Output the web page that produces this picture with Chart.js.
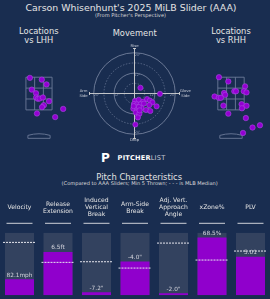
<!DOCTYPE html>
<html>
<head>
<meta charset="utf-8">
<script src="https://cdn.jsdelivr.net/npm/chart.js@4.4.1/dist/chart.umd.min.js"></script>
<style>
html, body { margin: 0; padding: 0; background: #192d50; }
#wrap { position: relative; width: 270px; height: 299px; overflow: hidden; background: #192d50; font-family: 'DejaVu Sans', sans-serif; color: #e4e4e4; }
.t { position: absolute; white-space: nowrap; text-align: center; transform: translate(-50%, -50%); line-height: 1; }
canvas { position: absolute; }
</style>
</head>
<body>
<div id="wrap">
  <div class="t" style="left:131px;top:7.5px;font-size:9.4px">Carson Whisenhunt's 2025 MiLB Slider (AAA)</div>
  <div class="t" style="left:130.5px;top:16.3px;font-size:5.1px;color:#d8d8d8">(From Pitcher's Perspective)</div>
  <div class="t" style="left:38.8px;top:35.8px;font-size:8.3px;line-height:9.5px">Locations<br>vs LHH</div>
  <div class="t" style="left:134.7px;top:33px;font-size:8.3px">Movement</div>
  <div class="t" style="left:231px;top:35.8px;font-size:8.3px;line-height:9.5px">Locations<br>vs RHH</div>

  <div class="t" style="left:105.5px;top:158px;font-size:12px;font-weight:bold;color:#ffffff">P</div>
  <div class="t" style="left:141.5px;top:158.3px;font-size:6.6px;letter-spacing:0.2px"><b style="color:#ffffff">PITCHER</b><span style="color:#c8ccd6">LIST</span></div>

  <div class="t" style="left:139.2px;top:176.7px;font-size:8.4px">Pitch Characteristics</div>
  <div class="t" style="left:139.7px;top:184.4px;font-size:5.1px;color:#dcdcdc">(Compared to AAA Sliders; Min 5 Thrown; - - - is MLB Median)</div>

  <canvas id="lhh" width="72" height="100" style="left:3px;top:46px"></canvas>
  <canvas id="rhh" width="76" height="100" style="left:193px;top:46px"></canvas>
  <canvas id="move" width="125" height="115" style="left:72px;top:36px"></canvas>
  <canvas id="bars" width="270" height="104" style="left:0px;top:195px"></canvas>
</div>

<script>
// pitch locations (feet, catcher-plate coords as drawn)
const lhhX = [-0.58, 0.18, 0.48, -0.46, -0.19, -0.18, -0.07, 0.04, 0.25, 0.64, 0.31, 0.19, -0.13, 1.54, 1.03];
const lhhZ = [3.46, 3.35, 3.06, 2.74, 2.52, 2.26, 2.18, 2.20, 2.26, 2.03, 1.79, 1.67, 1.28, 1.56, 1.06];

const rhhX = [-0.76, -0.17, 0.89, -0.44, -0.37, 0.21, 0.32, 0.81, 0.98, -1.04, -0.77, -0.64, -0.48, 0.67, 0.98, 0.69, -0.17, 0.94, 1.83, 1.36, 0.76];
const rhhZ = [3.50, 3.24, 2.94, 2.53, 2.42, 2.64, 2.64, 2.64, 2.57, 2.32, 2.24, 2.24, 1.76, 1.85, 1.75, 1.60, 1.27, 1.00, 0.56, 0.42, 0.09];

// movement (inches)
const moveH = [3.5, 15.0, 0.3, 2.5, 5.2, 7.4, 9.1, 10.6, 8.7, 13.0, -0.3, 1.4, 3.6, -0.7, 1.5, 4.1, 6.8, 9.3, 0.8, 2.9, 2.0, 0.5, 1.0, 2.6, 3.0, -0.5, 5.6];
const moveV = [3.4, -0.2, -4.3, -3.7, -4.8, -3.3, -4.2, -5.3, -6.9, -7.6, -6.2, -6.5, -6.4, -9.0, -9.0, -8.6, -9.8, -10.4, -11.3, -12.0, -14.2, -18.4, -7.8, -8.0, -10.0, -7.5, -6.0];

// pitch characteristics
const statLabels = [['Velocity'], ['Release', 'Extension'], ['Induced', 'Vertical', 'Break'], ['Arm-Side', 'Break'], ['Adj. Vert.', 'Approach', 'Angle'], ['xZone%'], ['PLV']];
const statText = ['82.1mph', '6.5ft', '-7.2"', '-4.0"', '-2.0"', '68.5%', '5.01'];
const statPct = [25.5, 69, 4.8, 54, 3.2, 92.5, 61.6];
const medianPct = [84.5, 52.6, 53.6, 43.5, 83.4, 56.3, 70.7];
const fullBar = [100, 100, 100, 100, 100, 100, 100];

const DOT = '#9400d3';
const DOT_EDGE = '#a84ee0';
const FONT = '"DejaVu Sans", sans-serif';
const PX_FT = 18;
const Z_MAX = 5.128;
const Z_MIN = Z_MAX - 100 / PX_FT;

const baseOpts = {
    responsive: false,
    animation: false,
    events: [],
    layout: { padding: 0 },
    plugins: { legend: { display: false }, tooltip: { enabled: false } }
};

const zonePlugin = {
    id: 'zone',
    beforeDatasetsDraw(chart) {
        const c = chart.ctx;
        const sx = chart.scales.x, sy = chart.scales.y;
        const X = v => sx.getPixelForValue(v), Y = v => sy.getPixelForValue(v);
        c.save();
        c.strokeStyle = '#6c7b99';
        c.lineWidth = 0.9;
        const xs = [-0.833, -0.278, 0.278, 0.833];
        const zs = [1.5, 2.1667, 2.8333, 3.5];
        xs.forEach(x => { c.beginPath(); c.moveTo(X(x), Y(1.5)); c.lineTo(X(x), Y(3.5)); c.stroke(); });
        zs.forEach(z => { c.beginPath(); c.moveTo(X(-0.833), Y(z)); c.lineTo(X(0.833), Y(z)); c.stroke(); });
        // plate
        c.beginPath();
        c.moveTo(X(-0.708), Y(-0.24));
        c.lineTo(X(0.708), Y(-0.24));
        c.lineTo(X(0.708), Y(-0.06));
        c.quadraticCurveTo(X(0), Y(0.14), X(-0.708), Y(-0.06));
        c.closePath();
        c.stroke();
        c.restore();
    }
};

function makeLoc(id, xs, zs) {
    const cv = document.getElementById(id);
    const half = cv.width / 2 / PX_FT;
    return new Chart(cv, {
        type: 'scatter',
        data: {
            datasets: [{
                data: xs.map((x, i) => ({ x: x, y: zs[i] })),
                backgroundColor: DOT,
                borderColor: DOT_EDGE,
                borderWidth: 0.6,
                pointRadius: 2.7
            }]
        },
        options: Object.assign({}, baseOpts, {
            scales: {
                x: { display: false, min: -half, max: half },
                y: { display: false, min: Z_MIN, max: Z_MAX }
            }
        }),
        plugins: [zonePlugin]
    });
}

makeLoc('lhh', lhhX, lhhZ);
makeLoc('rhh', rhhX, rhhZ);

const ringPlugin = {
    id: 'rings',
    beforeDatasetsDraw(chart) {
        const c = chart.ctx;
        const sx = chart.scales.x, sy = chart.scales.y;
        const cx = sx.getPixelForValue(0), cy = sy.getPixelForValue(0);
        const k = sx.getPixelForValue(1) - cx;
        c.save();
        [6, 12, 18, 24].forEach(r => {
            c.beginPath();
            c.setLineDash(r % 12 === 0 ? [] : [1.5, 1.5]);
            c.strokeStyle = r % 12 === 0 ? '#8c98b2' : '#6f7d9b';
            c.lineWidth = 0.7;
            c.arc(cx, cy, r * k, 0, Math.PI * 2);
            c.stroke();
        });
        c.setLineDash([]);
        c.strokeStyle = '#d6d6d6';
        c.lineWidth = 0.9;
        const L = 26.5 * k;
        c.beginPath();
        c.moveTo(cx - L, cy); c.lineTo(cx + L, cy);
        c.moveTo(cx, cy - L); c.lineTo(cx, cy + L);
        c.moveTo(cx - L, cy - 1.5); c.lineTo(cx - L, cy + 1.5);
        c.moveTo(cx + L, cy - 1.5); c.lineTo(cx + L, cy + 1.5);
        c.moveTo(cx - 1.5, cy - L); c.lineTo(cx + 1.5, cy - L);
        c.moveTo(cx - 1.5, cy + L); c.lineTo(cx + 1.5, cy + L);
        c.stroke();

        c.fillStyle = '#cfd3dc';
        c.textAlign = 'center';
        c.textBaseline = 'middle';
        c.font = '3.8px ' + FONT;
        c.fillText('Rise', cx, cy - 28.2 * k);
        c.fillText('Drop', cx, cy + 27.6 * k);
        c.fillText('Arm', cx - 30 * k, cy - 2.2);
        c.fillText('Side', cx - 30 * k, cy + 2.2);
        c.fillText('Glove', cx + 30 * k, cy - 2.2);
        c.fillText('Side', cx + 30 * k, cy + 2.2);

        c.fillStyle = '#8f9ab3';
        c.font = '3.2px ' + FONT;
        [12, 24].forEach(r => {
            c.fillText(r + '"', cx + 3, cy - (r - 1.4) * k);
            c.fillText(r + '"', cx + 3, cy + (r - 1.4) * k);
            c.fillText(r + '"', cx - (r - 1.6) * k, cy + 2);
            c.fillText(r + '"', cx + (r - 1.6) * k, cy + 2);
        });
        c.restore();
    }
};

new Chart(document.getElementById('move'), {
    type: 'scatter',
    data: {
        datasets: [{
            data: moveH.map((h, i) => ({ x: h, y: moveV[i] })),
            backgroundColor: DOT,
            borderColor: DOT_EDGE,
            borderWidth: 0.6,
            pointRadius: 2.6
        }]
    },
    options: Object.assign({}, baseOpts, {
        scales: {
            x: { display: false, min: -34.1, max: 34.1 },
            y: { display: false, min: -31.4, max: 31.4 }
        }
    }),
    plugins: [ringPlugin]
});

const barTextPlugin = {
    id: 'barText',
    afterDatasetsDraw(chart) {
        const c = chart.ctx;
        const sy = chart.scales.y;
        const meta = chart.getDatasetMeta(0);
        c.save();
        meta.data.forEach((bar, i) => {
            const x = bar.x, w = bar.width;
            // median line
            const my = sy.getPixelForValue(medianPct[i]);
            c.strokeStyle = '#e6e6ee';
            c.lineWidth = 1;
            c.setLineDash([2, 1]);
            c.beginPath();
            c.moveTo(x - w / 2 - 2, my);
            c.lineTo(x + w / 2 + 2, my);
            c.stroke();
            c.setLineDash([]);
            // value
            c.fillStyle = '#d4d4dc';
            c.font = '5.8px ' + FONT;
            c.textAlign = 'center';
            c.textBaseline = 'middle';
            c.fillText(statText[i], x, sy.getPixelForValue(statPct[i]) - 4.2);
            // header
            c.fillStyle = '#e4e4e4';
            c.font = '6.1px ' + FONT;
            const lines = statLabels[i];
            const y0 = 207.5 - 195 - (lines.length - 1) * 7.1 / 2;
            lines.forEach((s, j) => c.fillText(s, x, y0 + j * 7.1));
            // underline
            c.strokeStyle = '#cdd0d8';
            c.lineWidth = 1;
            c.beginPath();
            c.moveTo(x - 13, 223.3 - 195);
            c.lineTo(x + 13, 223.3 - 195);
            c.stroke();
        });
        c.restore();
    }
};

new Chart(document.getElementById('bars'), {
    type: 'bar',
    data: {
        labels: statLabels,
        datasets: [
            { data: statPct, backgroundColor: '#9000cc', grouped: false, order: 0, barPercentage: 1, categoryPercentage: 29 / 38.5 },
            { data: fullBar, backgroundColor: '#33425f', grouped: false, order: 1, barPercentage: 1, categoryPercentage: 29 / 38.5 }
        ]
    },
    options: Object.assign({}, baseOpts, {
        layout: { padding: { top: 37.7, bottom: 3.7, left: 0.25, right: 0.25 } },
        scales: {
            x: { display: false },
            y: { display: false, min: 0, max: 100 }
        }
    }),
    plugins: [barTextPlugin]
});
</script>
</body>
</html>
